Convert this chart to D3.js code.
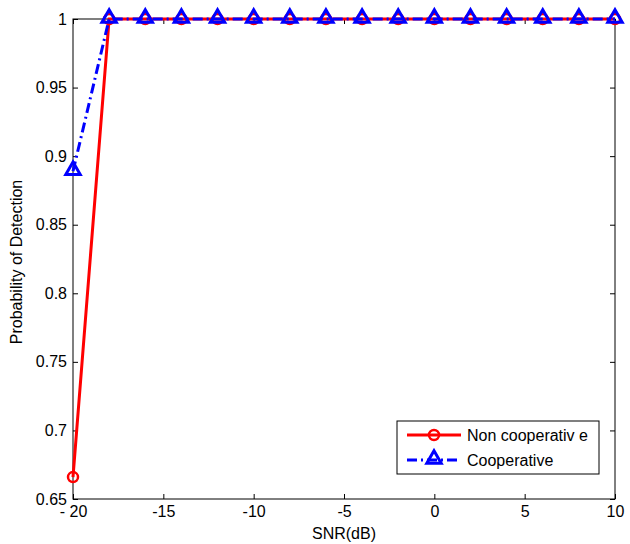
<!DOCTYPE html>
<html>
<head>
<meta charset="utf-8">
<script src="https://cdn.jsdelivr.net/npm/d3@7"></script>
<style>
    body { margin: 0; background: #fff; }
    text { font-family: "Liberation Sans", Arial, sans-serif; }
</style>
</head>
<body>
<svg id="chart"></svg>
<script>
// Chart data
let snr = [-20, -18, -16, -14, -12, -10, -8, -6, -4, -2, 0, 2, 4, 6, 8, 10];
let nonCoop = [0.666, 1, 1, 1, 1, 1, 1, 1, 1, 1, 1, 1, 1, 1, 1, 1];
let coop = [0.889, 1, 1, 1, 1, 1, 1, 1, 1, 1, 1, 1, 1, 1, 1, 1];
let xTicks = [-20, -15, -10, -5, 0, 5, 10];
let xTickLabels = ['- 20', '-15', '-10', '-5', '0', '5', '10'];
let yTicks = [0.65, 0.7, 0.75, 0.8, 0.85, 0.9, 0.95, 1];
let yTickLabels = ['0.65', '0.7', '0.75', '0.8', '0.85', '0.9', '0.95', '1'];
let legendLabels = ['Non cooperativ e', 'Cooperative'];

let c = {
    width: 630,
    height: 544,
    plot: { left: 73, top: 19, right: 615, bottom: 499 },
    tick: 5,
    font: 16
};

let svg = d3.select('#chart')
    .attr('width', c.width)
    .attr('height', c.height);

let x = d3.scaleLinear().domain([-20, 10]).range([c.plot.left, c.plot.right]);
let y = d3.scaleLinear().domain([0.65, 1]).range([c.plot.bottom, c.plot.top]);

// Axes (MATLAB style box, ticks pointing in)
let axisStyle = g => {
    g.select('.domain').remove();
    g.selectAll('line').attr('stroke', '#000');
    g.selectAll('text').attr('font-size', c.font).attr('fill', '#000');
};

svg.append('g')
    .attr('transform', translate(0, c.plot.bottom))
    .call(d3.axisBottom(x).tickValues(xTicks).tickSize(-c.tick).tickPadding(7)
        .tickFormat((d, i) => xTickLabels[i]))
    .call(axisStyle);

svg.append('g')
    .attr('transform', translate(0, c.plot.top))
    .call(d3.axisTop(x).tickValues(xTicks).tickSize(-c.tick).tickFormat(''))
    .call(axisStyle);

svg.append('g')
    .attr('transform', translate(c.plot.left, 0))
    .call(d3.axisLeft(y).tickValues(yTicks).tickSize(-c.tick).tickPadding(6)
        .tickFormat((d, i) => yTickLabels[i]))
    .call(axisStyle);

svg.append('g')
    .attr('transform', translate(c.plot.right, 0))
    .call(d3.axisRight(y).tickValues(yTicks).tickSize(-c.tick).tickFormat(''))
    .call(axisStyle);

svg.append('rect')
    .attr('x', c.plot.left)
    .attr('y', c.plot.top)
    .attr('width', c.plot.right - c.plot.left)
    .attr('height', c.plot.bottom - c.plot.top)
    .attr('fill', 'none')
    .attr('stroke', '#000')
    .attr('stroke-width', 1);

// Labels
svg.append('text')
    .attr('x', midpoint([c.plot.left, c.plot.right]))
    .attr('y', 539)
    .attr('text-anchor', 'middle')
    .attr('font-size', c.font)
    .text('SNR(dB)');

svg.append('text')
    .attr('transform', translate(22, 262) + ' rotate(-90)')
    .attr('text-anchor', 'middle')
    .attr('font-size', c.font)
    .text('Probability of Detection');

// Series
let line = d3.line().x(d => x(d[0])).y(d => y(d[1]));
let redPts = d3.zip(snr, nonCoop);
let bluePts = d3.zip(snr, coop);

let triangle = d3.symbol().type(d3.symbolTriangle).size(90);

svg.append('path')
    .attr('d', line(redPts))
    .attr('fill', 'none')
    .attr('stroke', '#ff0000')
    .attr('stroke-width', 3);

svg.selectAll('circle.red')
    .data(redPts)
    .enter().append('circle')
    .attr('class', 'red')
    .attr('cx', d => x(d[0]))
    .attr('cy', d => y(d[1]))
    .attr('r', 5)
    .attr('fill', 'none')
    .attr('stroke', '#ff0000')
    .attr('stroke-width', 2.5);

svg.append('path')
    .attr('d', line(bluePts))
    .attr('fill', 'none')
    .attr('stroke', '#0000ff')
    .attr('stroke-width', 3)
    .attr('stroke-dasharray', '10,4,2,4');

svg.selectAll('path.tri')
    .data(bluePts)
    .enter().append('path')
    .attr('class', 'tri')
    .attr('d', triangle)
    .attr('transform', d => translate(x(d[0]), y(d[1]) - 1))
    .attr('fill', 'none')
    .attr('stroke', '#0000ff')
    .attr('stroke-width', 3);

// Legend
let lg = svg.append('g').attr('transform', translate(397, 421));
lg.append('rect')
    .attr('width', 202)
    .attr('height', 53)
    .attr('fill', '#fff')
    .attr('stroke', '#000');

let legendItems = [
    { label: legendLabels[0], color: '#ff0000', dash: null, marker: 'circle' },
    { label: legendLabels[1], color: '#0000ff', dash: '10,4,2,4', marker: 'tri' }
];

legendItems.forEach((item, i) => {
    let yy = 14 + i * 25;
    lg.append('line')
        .attr('x1', 10).attr('x2', 64)
        .attr('y1', yy).attr('y2', yy)
        .attr('stroke', item.color)
        .attr('stroke-width', 3)
        .attr('stroke-dasharray', item.dash);
    if (item.marker === 'circle') {
        lg.append('circle')
            .attr('cx', 37).attr('cy', yy).attr('r', 5)
            .attr('fill', 'none').attr('stroke', item.color).attr('stroke-width', 2.5);
    } else {
        lg.append('path')
            .attr('d', triangle)
            .attr('transform', translate(37, yy - 1))
            .attr('fill', 'none').attr('stroke', item.color).attr('stroke-width', 3);
    }
    lg.append('text')
        .attr('x', 70)
        .attr('y', yy + 6)
        .attr('font-size', c.font)
        .text(item.label);
});

function translate(x, y) {
    return 'translate(' + x + ',' + y + ')';
}

function midpoint(range) {
    return range[0] + (range[1] - range[0]) / 2.0;
}
</script>
</body>
</html>
